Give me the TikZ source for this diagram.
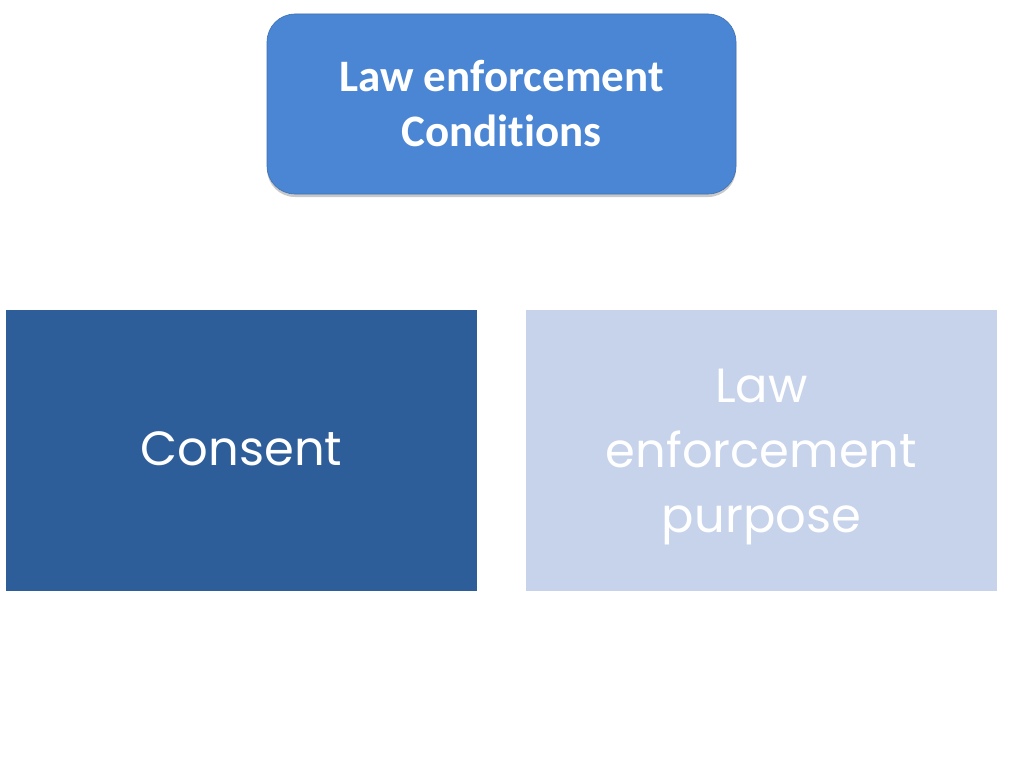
\documentclass[tikz,border=0pt]{standalone}
\usepackage{fontspec}
\setmainfont[Ligatures=NoCommon]{Carlito}
\newfontfamily\gothic{Poppins}
\usetikzlibrary{shadows}
\definecolor{topblue}{RGB}{74,134,212}
\definecolor{darkblue}{RGB}{46,94,154}
\definecolor{paleblue}{RGB}{198,211,235}
\tikzset{
  topbox/.style={rounded corners=28pt, fill=topblue, draw=topblue!85!black, line width=0.6pt,
    minimum width=469pt, minimum height=180pt, text=white, align=center,
    drop shadow={shadow xshift=0pt, shadow yshift=-3pt, opacity=0.35, fill=black!60}},
  bigbox/.style={minimum width=471pt, minimum height=281pt, text=white, align=center, inner sep=0pt},
  bigtext/.style={text=white, align=center, font=\gothic\fontsize{48}{65}\selectfont},
}
\begin{document}
\begin{tikzpicture}[x=1pt,y=-1pt]
\useasboundingbox (0,0) rectangle (1024,768);
\fill[white] (0,0) rectangle (1024,768);
\node[topbox, font=\bfseries\fontsize{45}{55}\selectfont] (top) at (501.5,104) {Law enforcement\\Conditions};
\node[bigbox, fill=darkblue] (consent) at (241.5,450.5) {};
\node[bigtext] (consenttext) at (241.5,449) {Consent};
\node[bigbox, fill=paleblue] (purpose) at (761.5,450.5) {};
\node[bigtext] (purposetext) at (761.5,457) {Law\\enforcement\\purpose};
\end{tikzpicture}
\end{document}
